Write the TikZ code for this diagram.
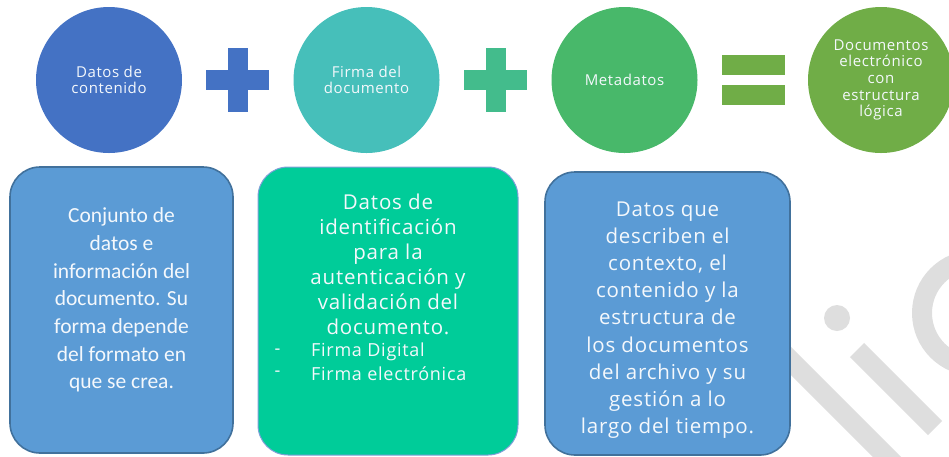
\documentclass[tikz,border=0pt]{standalone}
\usepackage{fontspec}
\setmainfont{Open Sans}[LetterSpace=4]
\newfontfamily\boxfont{Carlito}
\definecolor{cblue}{HTML}{4472C4}
\definecolor{cteal}{HTML}{46BFBA}
\definecolor{cplus}{HTML}{43BC8C}
\definecolor{cgreen}{HTML}{48B86A}
\definecolor{colive}{HTML}{70AD47}
\definecolor{bblue}{HTML}{5B9BD5}
\definecolor{bborder}{HTML}{41719C}
\definecolor{bmint}{HTML}{00CC99}
\definecolor{bmintborder}{HTML}{7F9FD8}
\definecolor{wmark}{HTML}{DEDEDE}
\definecolor{txt}{HTML}{F4F8FC}
\begin{document}
\begin{tikzpicture}[x=1pt,y=-1pt,
  circ/.style={circle,fill=#1,draw=none,minimum size=146pt,inner sep=0pt,text=txt,align=center,
    font=\fontsize{15}{16}\selectfont},
  infobox/.style={rounded corners=30pt,line width=1.6pt,text=txt,align=center,anchor=north west},
  wm/.style={draw=wmark,line width=20pt}
]
\useasboundingbox (0,0) rectangle (949,456);
\clip (0,0) rectangle (949,456);
% watermark
\draw[wm] (760,330) -- (895,465);
\draw[wm] (857,350) -- (935,428);
\fill[wmark] (837,318) circle (13);
\draw[wm] (975,313) circle (53);
% circles
\node[circ=cblue] (c1) at (109,80) {Datos de\\contenido};
\node[circ=cteal] (c2) at (366.5,80) {Firma del\\documento};
\node[circ=cgreen] (c3) at (624.5,80) {Metadatos};
\node[circ=colive,font=\fontsize{15}{16.7}\selectfont] (c4) at (881,80) {Documentos\\electrónico\\con\\estructura\\lógica};
% plus 1
\fill[cblue] (206,70) rectangle (269,90);
\fill[cblue] (228,48) rectangle (248,112);
% plus 2
\fill[cplus] (464,70) rectangle (527,90);
\fill[cplus] (486,48) rectangle (506,112);
% equals
\fill[colive] (722,55) rectangle (785,75);
\fill[colive] (722,85) rectangle (785,105);
% boxes
\draw[infobox,fill=bblue,draw=bborder] (10,167) rectangle (233,453);
\node[text=txt,align=center,font=\boxfont\fontsize{21.5}{27.7}\selectfont] (t1) at (121.5,300)
  {Conjunto de\\datos e\\información del\\documento. Su\\forma depende\\del formato en\\que se crea.};
\draw[infobox,fill=bmint,draw=bmintborder,line width=1pt] (258,167) rectangle (518,455);
\node[text=txt,align=center,font=\fontsize{20.5}{25}\selectfont,anchor=north] (t2) at (388,190)
  {Datos de\\identificación\\para la\\autenticación y\\validación del\\documento.};
\node[text=txt,anchor=west,font=\fontsize{18}{22}\selectfont] (b1) at (271,352) {-};
\node[text=txt,anchor=west,font=\fontsize{18}{22}\selectfont] (b2) at (271,374) {-};
\node[text=txt,anchor=west,font=\fontsize{18}{22}\selectfont,inner sep=0pt] (l1) at (311,352) {Firma Digital};
\node[text=txt,anchor=west,font=\fontsize{18}{22}\selectfont,inner sep=0pt] (l2) at (311,374) {Firma electrónica};
\draw[infobox,fill=bblue,draw=bborder] (545,172) rectangle (790,455);
\node[text=txt,align=center,font=\fontsize{20.5}{27.2}\selectfont] (t3) at (667.5,320)
  {Datos que\\describen el\\contexto, el\\contenido y la\\estructura de\\los documentos\\del archivo y su\\gestión a lo\\largo del tiempo.};
\end{tikzpicture}
\end{document}
